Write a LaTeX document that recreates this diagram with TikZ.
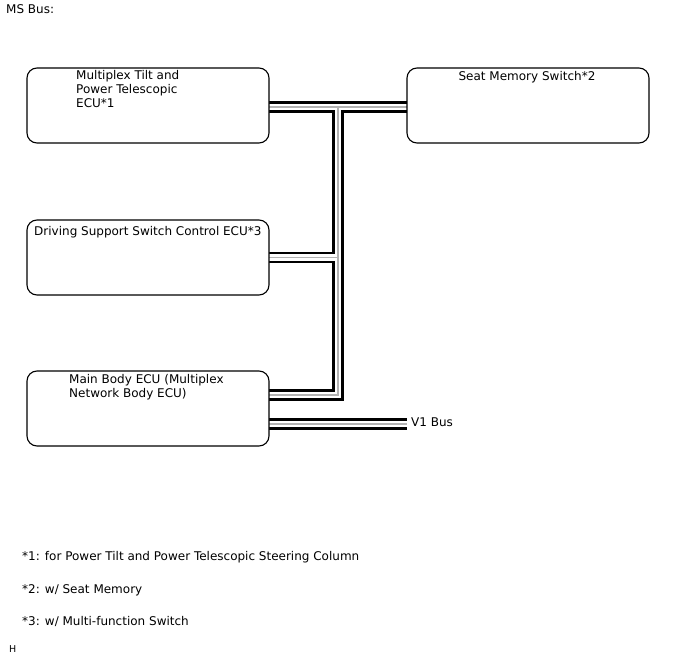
\documentclass[tikz,border=0pt]{standalone}
\usepackage{fontspec}
\setmainfont{DejaVu Sans}
\begin{document}
\begin{tikzpicture}[x=1pt,y=-1pt,
  ecubox/.style={draw=black,line width=1.1pt,rounded corners=10pt,fill=white,minimum width=242pt,minimum height=75pt,inner sep=0pt},
  txt/.style={anchor=base west,inner sep=0pt,font=\fontsize{12}{14}\selectfont},
  busblack/.style={line width=11.2pt,draw=black},
  buswhite/.style={line width=6.8pt,draw=white},
  busgray/.style={line width=1.3pt,draw=gray!60}]
\useasboundingbox (0,0) rectangle (688,658);
% junction coordinates
\coordinate (j1) at (338,107);
\coordinate (j2) at (338,257.7);
\coordinate (j3) at (338,395);
\coordinate (v1end) at (407,424);
% box positions (boxes drawn after the bus)
\path (148,105.5) coordinate (p1) (528,105.5) coordinate (p2) (148,257.5) coordinate (p3) (148,408.5) coordinate (p4);
% bus layers
\foreach \lay in {busblack,buswhite,busgray}{
  \draw[\lay,line cap=butt] (269,107) -- (407,107);
  \draw[\lay,line cap=butt,line join=miter] (j1) -- (j3) -- (269,395);
  \draw[\lay,line cap=butt] (269,257.7) -- (j2);
  \draw[\lay,line cap=butt] (260,424) -- (v1end);
}
% boxes
\node[ecubox] (tilt) at (p1) {};
\node[ecubox] (seat) at (p2) {};
\node[ecubox] (dss) at (p3) {};
\node[ecubox] (main) at (p4) {};
% labels
\node[txt] (ms) at (6,13.5) {MS Bus:};
\node[txt] (t1) at (76,80) {Multiplex Tilt and};
\node[txt] (t2) at (76,94) {Power Telescopic};
\node[txt] (t3) at (76,108) {ECU*1};
\node[txt,anchor=base] (s1) at (527,81) {Seat Memory Switch*2};
\node[txt] (d1) at (34,235) {Driving Support Switch Control ECU*3};
\node[txt] (m1) at (69,383) {Main Body ECU (Multiplex};
\node[txt] (m2) at (69,397) {Network Body ECU)};
\node[txt] (v1) at (411,426.5) {V1 Bus};
\node[txt] (f1) at (22,560.5) {*1: for Power Tilt and Power Telescopic Steering Column};
\node[txt] (f2) at (22,593.5) {*2: w/ Seat Memory};
\node[txt] (f3) at (22,625.5) {*3: w/ Multi-function Switch};
\node[txt,font=\fontsize{9.5}{11}\selectfont] (h) at (9,652.5) {H};
\end{tikzpicture}
\end{document}
